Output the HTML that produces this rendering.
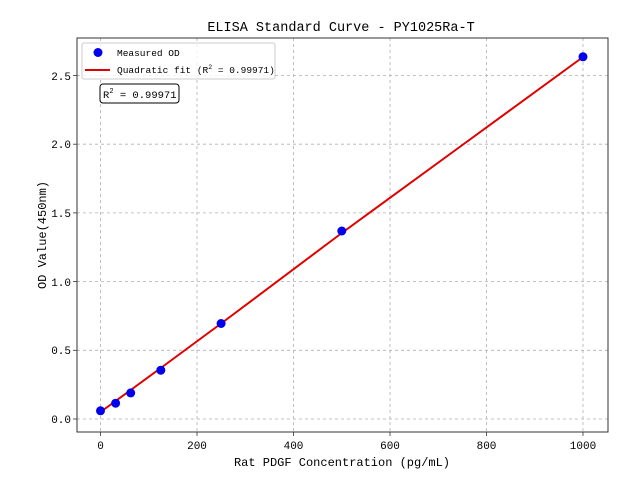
<!DOCTYPE html>
<html><head><style>body{margin:0;background:#fff}svg{display:block}text{font-family:"Liberation Mono","DejaVu Sans Mono",monospace;fill:#000}</style></head><body>
<svg width="640" height="480" viewBox="0 0 640 480" xmlns="http://www.w3.org/2000/svg">
<g stroke="#b0b0b0" stroke-width="0.8" stroke-dasharray="3,3" fill="none">
<line x1="100.5" y1="38" x2="100.5" y2="432"/><line x1="197" y1="38" x2="197" y2="432"/><line x1="293.5" y1="38" x2="293.5" y2="432"/><line x1="390" y1="38" x2="390" y2="432"/><line x1="486.5" y1="38" x2="486.5" y2="432"/><line x1="583" y1="38" x2="583" y2="432"/>
<line x1="77" y1="419" x2="608" y2="419"/><line x1="77" y1="350.3" x2="608" y2="350.3"/><line x1="77" y1="281.6" x2="608" y2="281.6"/><line x1="77" y1="212.9" x2="608" y2="212.9"/><line x1="77" y1="144.2" x2="608" y2="144.2"/><line x1="77" y1="75.5" x2="608" y2="75.5"/>
</g>
<polyline fill="none" stroke="#e00000" stroke-width="2" points="100.5,412 115.6,401 130.7,390 160.8,368 221.1,323.5 341.8,233 462.4,145 583,57"/>
<g fill="#0000ee">
<circle cx="100.5" cy="410.8" r="4.5"/><circle cx="115.6" cy="403.2" r="4.5"/><circle cx="130.7" cy="392.9" r="4.5"/><circle cx="160.8" cy="370.2" r="4.5"/><circle cx="221.1" cy="323.5" r="4.5"/><circle cx="341.8" cy="231" r="4.5"/><circle cx="583" cy="56.8" r="4.5"/>
</g>
<rect x="77" y="38" width="531" height="394" fill="none" stroke="#333" stroke-width="1"/>
<g stroke="#333" stroke-width="0.8">
<line x1="100.5" y1="432" x2="100.5" y2="436"/><line x1="197" y1="432" x2="197" y2="436"/><line x1="293.5" y1="432" x2="293.5" y2="436"/><line x1="390" y1="432" x2="390" y2="436"/><line x1="486.5" y1="432" x2="486.5" y2="436"/><line x1="583" y1="432" x2="583" y2="436"/>
<line x1="73" y1="419" x2="77" y2="419"/><line x1="73" y1="350.3" x2="77" y2="350.3"/><line x1="73" y1="281.6" x2="77" y2="281.6"/><line x1="73" y1="212.9" x2="77" y2="212.9"/><line x1="73" y1="144.2" x2="77" y2="144.2"/><line x1="73" y1="75.5" x2="77" y2="75.5"/>
</g>
<g font-size="11" text-anchor="middle">
<text x="100.5" y="449">0</text><text x="197" y="449">200</text><text x="293.5" y="449">400</text><text x="390" y="449">600</text><text x="486.5" y="449">800</text><text x="583" y="449">1000</text>
</g>
<g font-size="11" text-anchor="end">
<text x="71" y="423">0.0</text><text x="71" y="354">0.5</text><text x="71" y="286">1.0</text><text x="71" y="217">1.5</text><text x="71" y="148">2.0</text><text x="71" y="80">2.5</text>
</g>
<text x="342" y="466" font-size="12" text-anchor="middle">Rat PDGF Concentration (pg/mL)</text>
<text transform="translate(46,235) rotate(-90)" font-size="12" text-anchor="middle">OD Value(450nm)</text>
<text x="341" y="31" font-size="13.5" text-anchor="middle">ELISA Standard Curve - PY1025Ra-T</text>
<rect x="82" y="43" width="193" height="36" rx="2" fill="#fff" fill-opacity="0.8" stroke="#ccc"/>
<circle cx="98" cy="52.5" r="4.5" fill="#0000ee"/>
<text x="117" y="56" font-size="9.5">Measured OD</text>
<line x1="85" y1="70" x2="110" y2="70" stroke="#e00000" stroke-width="2"/>
<text x="117" y="73" font-size="9.5">Quadratic fit (R<tspan font-size="6.5" dy="-4">2</tspan><tspan dy="4"> = 0.99971)</tspan></text>
<rect x="100" y="84" width="79" height="19" rx="3" fill="#fff" stroke="#000"/>
<text x="103" y="98" font-size="10.5">R<tspan font-size="7" dy="-5">2</tspan><tspan dy="5"> = 0.99971</tspan></text>
</svg>
</body></html>
